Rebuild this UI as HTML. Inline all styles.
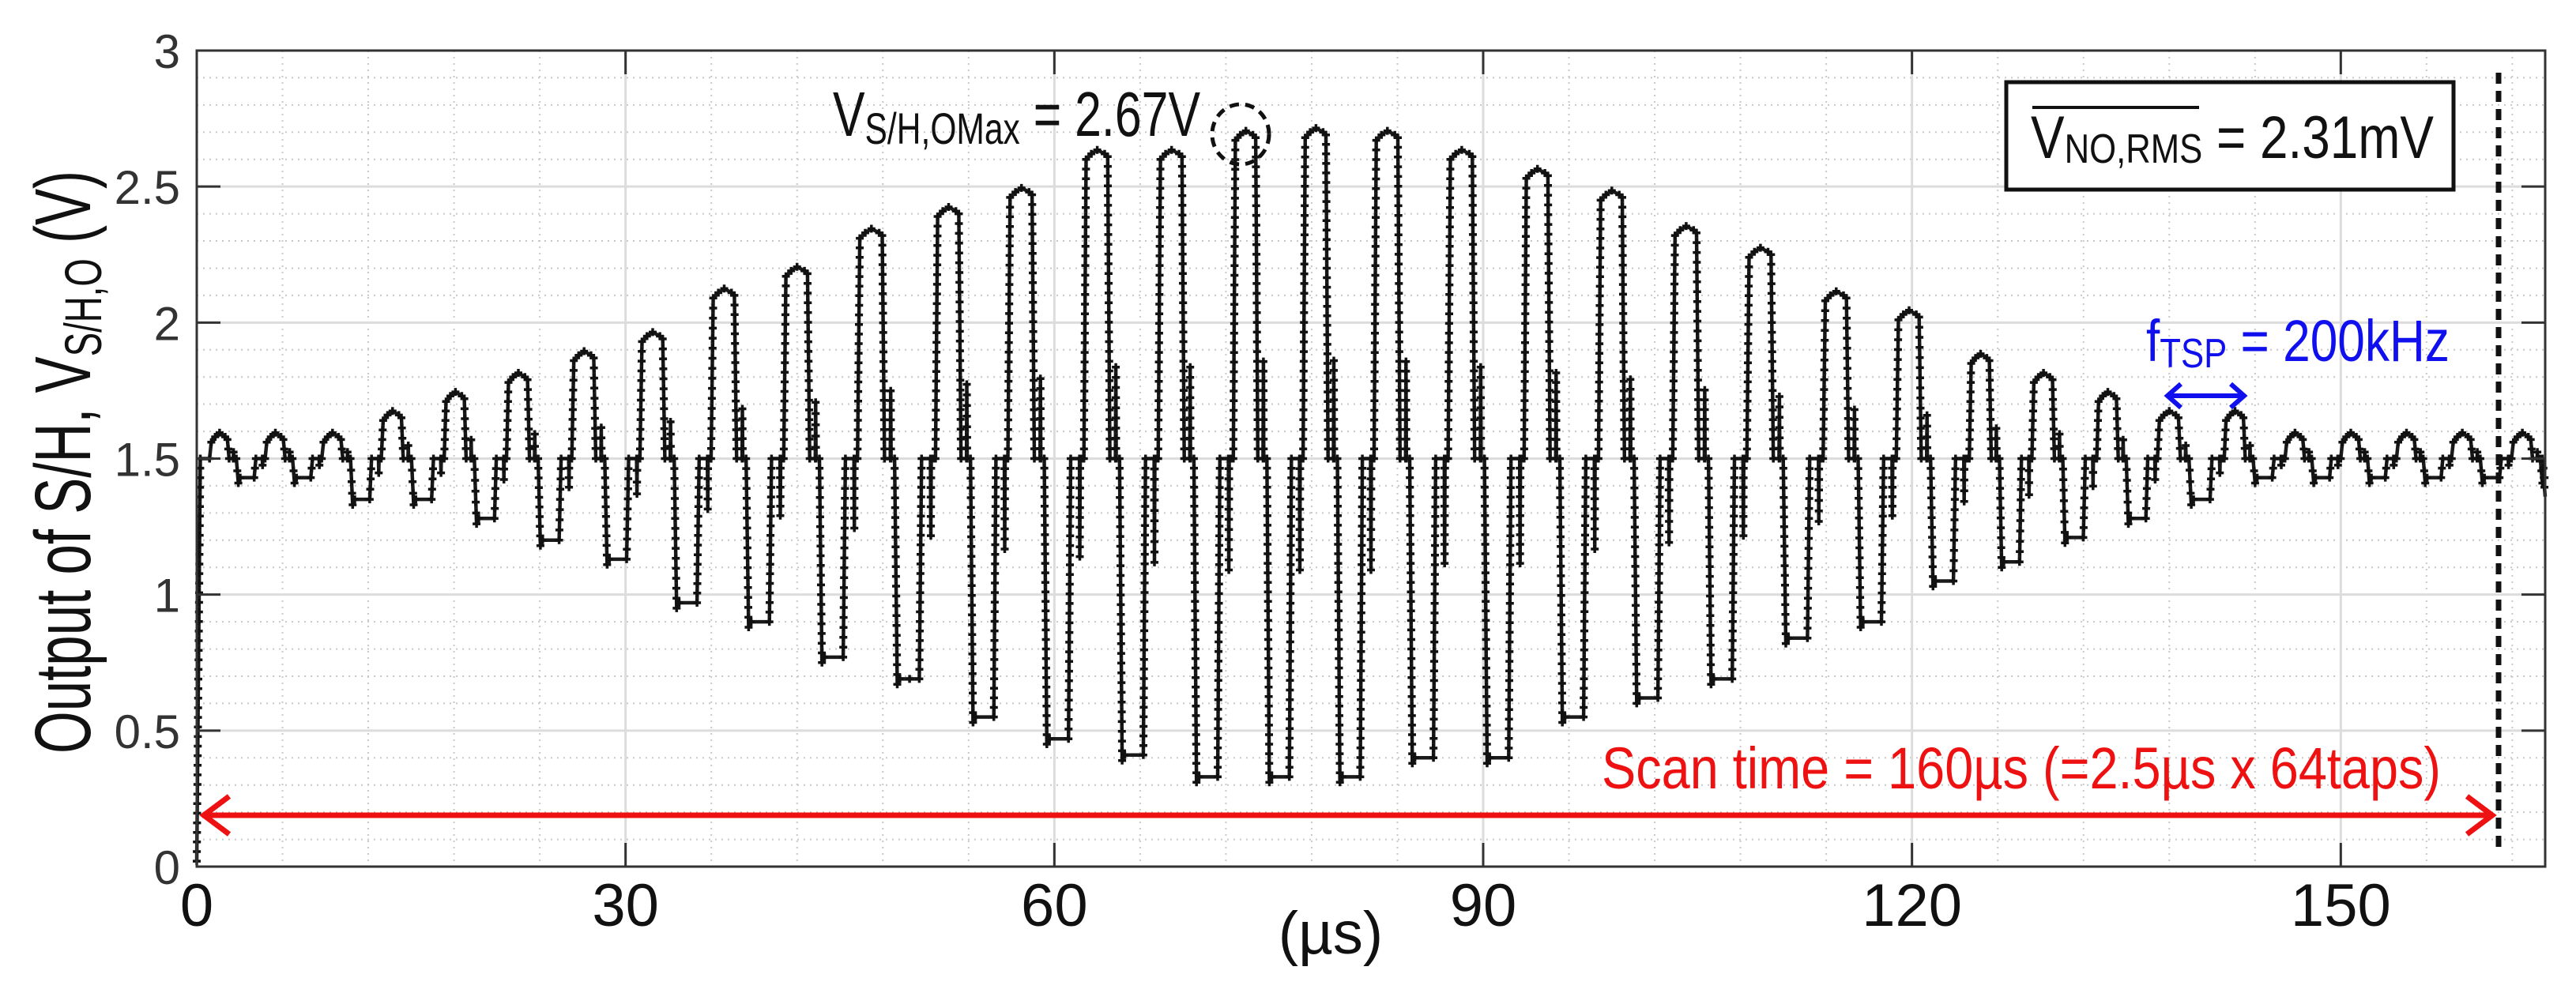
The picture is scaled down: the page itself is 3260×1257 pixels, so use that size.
<!DOCTYPE html>
<html><head><meta charset="utf-8"><style>
html,body{margin:0;padding:0;background:#fff;}
svg{display:block;font-family:"Liberation Sans Narrow","Liberation Sans",sans-serif;}
</style></head><body>
<svg id="chart" width="3260" height="1257" viewBox="0 0 3260 1257" xmlns="http://www.w3.org/2000/svg">
<rect width="3260" height="1257" fill="#fff"/>
<g id="grid"></g>
<g id="series"></g>
<g id="axes"></g>
<g id="annot"></g>
</svg>
<script>
const peakTimes=[1.6,5.5,9.5,13.7,18.1,22.5,27.1,31.9,36.9,42.0,47.2,52.6,57.7,63.0,68.2,73.4,78.3,83.3,88.5,93.8,99.0,104.2,109.4,114.7,119.8,124.8,129.2,133.7,138.0,142.6,146.8,150.7,154.6,158.5,162.7];
const peakVals=[1.58,1.58,1.58,1.66,1.73,1.80,1.88,1.95,2.11,2.19,2.33,2.41,2.48,2.62,2.62,2.69,2.70,2.69,2.62,2.55,2.47,2.34,2.26,2.10,2.03,1.87,1.80,1.73,1.66,1.66,1.58,1.58,1.58,1.58,1.58];
const lowVals=[1.43,1.43,1.35,1.35,1.28,1.20,1.13,0.97,0.90,0.77,0.69,0.55,0.47,0.41,0.33,0.33,0.33,0.40,0.40,0.55,0.62,0.69,0.84,0.90,1.05,1.12,1.21,1.28,1.35,1.43,1.43,1.43,1.43,1.43,1.43];
const xTicks=[0,30,60,90,120,150];
const yTicks=[0,0.5,1,1.5,2,2.5,3];
const baseline=1.5, xMax=164.3, yMax=3, scanEnd=161, arrowV=0.19;

const L=249,R=3221,T=64,B=1097;
const NS="http://www.w3.org/2000/svg";
function X(t){return L+(t/xMax)*(R-L);}
function Y(v){return B-(v/yMax)*(B-T);}
function mk(tag,attrs,parent){const e=document.createElementNS(NS,tag);for(const k in attrs)e.setAttribute(k,attrs[k]);parent.appendChild(e);return e;}
const grid=document.getElementById('grid'),series=document.getElementById('series'),axes=document.getElementById('axes');

for(let t=6;t<xMax;t+=6){if(t%30===0)continue;const l=mk('line',{x1:X(t),x2:X(t),y1:T,y2:B,stroke:'#c8c8c8','stroke-width':2,'stroke-dasharray':'2 6'},grid);

}
for(let i=1;i<30;i++){if(i%5===0)continue;const v=i/10;const l=mk('line',{x1:L,x2:R,y1:Y(v),y2:Y(v),stroke:'#c8c8c8','stroke-width':2,'stroke-dasharray':'2 6'},grid);

}
xTicks.forEach(t=>{if(t===0)return;const l=mk('line',{x1:X(t),x2:X(t),y1:T,y2:B,stroke:'#dcdcdc','stroke-width':3},grid);

});
yTicks.forEach(v=>{if(v===0||v===3)return;const l=mk('line',{x1:L,x2:R,y1:Y(v),y2:Y(v),stroke:'#dcdcdc','stroke-width':3},grid);

});

const pts=[[0,0.02],[0.25,1.5]];
const n=peakTimes.length;
for(let k=0;k<n;k++){
  const tc=peakTimes[k];
  const P=k<n-1?peakTimes[k+1]-peakTimes[k]:peakTimes[k]-peakTimes[k-1];
  const hi=peakVals[k],lo=lowVals[k];
  const seq=[[-0.18,baseline],[-0.15,hi-0.02],[-0.08,hi],[0,hi+0.015],[0.1,hi],[0.14,hi-0.01],[0.17,baseline],[0.245,baseline],[0.25,baseline+0.3*(hi-baseline)],[0.255,baseline],
    [0.3,baseline],[0.335,lo-0.02],[0.37,lo],[0.62,lo],[0.65,baseline],[0.765,baseline],[0.77,baseline-0.35*(baseline-lo)],[0.775,baseline],[0.81,baseline]];
  for(const [f,v] of seq){const t=tc+f*P;if(t<=xMax)pts.push([t,v]);}
}
if(pts[pts.length-1][0]<xMax){pts.push([xMax-0.2,baseline]);pts.push([xMax,1.36]);}
const d=pts.map((p,i)=>(i?'L':'M')+X(p[0]).toFixed(1)+' '+Y(p[1]).toFixed(1)).join(' ');
const path=mk('path',{d:d,fill:'none',stroke:'#1a1a1a','stroke-width':4.5,'stroke-linejoin':'round'},series);


let dots='';
for(let i=1;i<pts.length;i++){const [t0,v0]=pts[i-1],[t1,v1]=pts[i];
  const dx=X(t1)-X(t0),dy=Y(v1)-Y(v0);const len=Math.hypot(dx,dy);const m=Math.max(1,Math.floor(len/12));
  for(let j=0;j<m;j++){const x=X(t0)+dx*j/m,y=Y(v0)+dy*j/m;dots+='M'+(x-5).toFixed(1)+' '+y.toFixed(1)+'h10M'+x.toFixed(1)+' '+(y-5).toFixed(1)+'v10';}}
const mp=mk('path',{d:dots,stroke:'#111','stroke-width':3.5,fill:'none'},series);



const box=mk('rect',{x:L,y:T,width:R-L,height:B-T,fill:'none',stroke:'#333','stroke-width':3},axes);


xTicks.forEach(t=>{
  mk('line',{x1:X(t),x2:X(t),y1:B,y2:B-30,stroke:'#333','stroke-width':3},axes);
  mk('line',{x1:X(t),x2:X(t),y1:T,y2:T+30,stroke:'#333','stroke-width':3},axes);
  const tx=mk('text',{x:X(t),y:1172,'font-size':76,'text-anchor':'middle',fill:'#111'},axes);tx.textContent=t;
  
  
});
yTicks.forEach(v=>{
  mk('line',{x1:L,x2:L+30,y1:Y(v),y2:Y(v),stroke:'#333','stroke-width':3},axes);
  mk('line',{x1:R,x2:R-30,y1:Y(v),y2:Y(v),stroke:'#333','stroke-width':3},axes);
  const tx=mk('text',{x:228,y:Y(v)+22,'font-size':60,'text-anchor':'end',fill:'#333'},axes);tx.textContent=v;
  
  
});
</script>
<svg style="position:absolute;left:0;top:0" width="3260" height="1257" viewBox="0 0 3260 1257" xmlns="http://www.w3.org/2000/svg" font-family="Liberation Sans Narrow, Liberation Sans, sans-serif">
<text transform="translate(114,585) rotate(-90)" text-anchor="middle" font-size="100" fill="#111" textLength="738" lengthAdjust="spacingAndGlyphs">Output of S/H, V<tspan font-size="66" dy="14">S/H,O</tspan><tspan dy="-14"> (V)</tspan></text>
<text x="1684" y="1207" text-anchor="middle" font-size="76" fill="#111">(µs)</text>
<text x="1054" y="172" font-size="80" fill="#111" textLength="465" lengthAdjust="spacingAndGlyphs">V<tspan font-size="56" dy="10">S/H,OMax</tspan><tspan dy="-10"> = 2.67V</tspan></text>
<ellipse cx="1570" cy="170" rx="36" ry="38" fill="none" stroke="#111" stroke-width="5" stroke-dasharray="12 8"/>
<rect x="2539" y="104" width="566" height="136" fill="#fff" stroke="#111" stroke-width="5"/>
<line x1="2572" x2="2783" y1="136" y2="136" stroke="#111" stroke-width="4"/>
<text x="2570" y="200" font-size="76" fill="#111" textLength="510" lengthAdjust="spacingAndGlyphs">V<tspan font-size="52" dy="6">NO,RMS</tspan><tspan dy="-6"> = 2.31mV</tspan></text>
<text x="2716" y="457" font-size="74" fill="#1010ee" textLength="384" lengthAdjust="spacingAndGlyphs">f<tspan font-size="52" dy="8">TSP</tspan><tspan dy="-8"> = 200kHz</tspan></text>
<g stroke="#1010ee" stroke-width="6" fill="none">
<line x1="2743" x2="2840" y1="501" y2="501"/><polyline points="2760,486 2743,501 2760,516"/><polyline points="2823,486 2840,501 2823,516"/></g>
<g stroke="#ee1111" stroke-width="7" fill="none">
<line x1="256" x2="3154" y1="1032" y2="1032"/><polyline points="290,1008 258,1032 290,1056"/><polyline points="3122,1008 3154,1032 3122,1056"/></g>
<text x="2027" y="998" font-size="74" fill="#ee1111" textLength="1062" lengthAdjust="spacingAndGlyphs">Scan time = 160µs (=2.5µs x 64taps)</text>
<line x1="3162" x2="3162" y1="92" y2="1078" stroke="#111" stroke-width="7" stroke-dasharray="14 9"/>
</svg>
</body></html>
